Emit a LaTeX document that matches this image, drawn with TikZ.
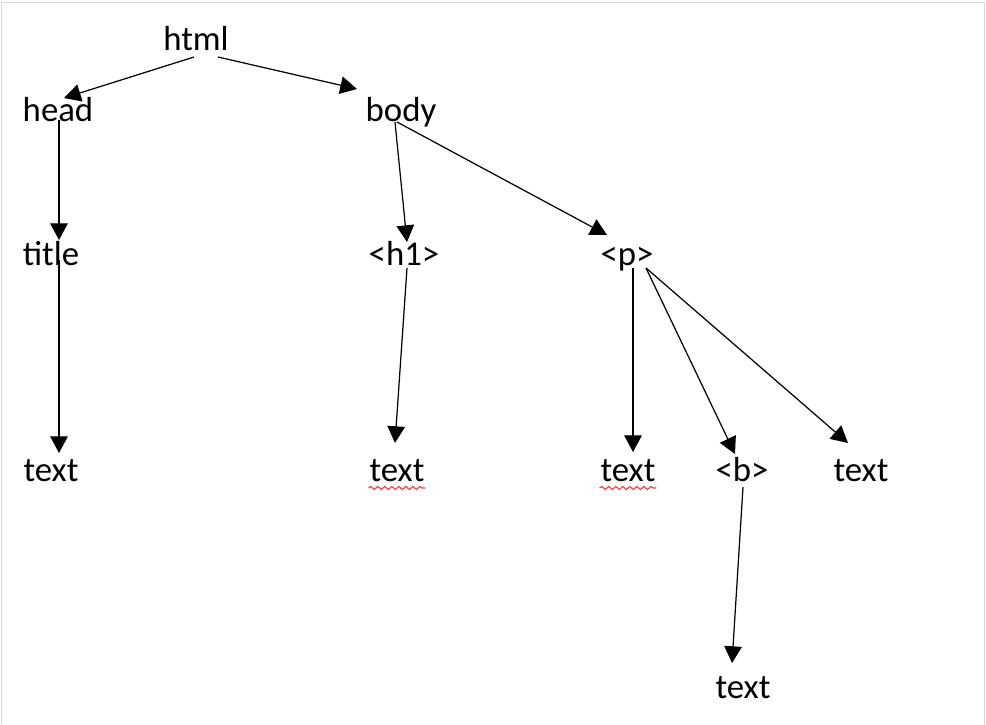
\documentclass[tikz,border=0pt]{standalone}
\usepackage{fontspec}
\setmainfont{Carlito}
\usepackage{tikz}
\usetikzlibrary{calc,positioning,arrows.meta,decorations.pathmorphing}
\tikzset{
    tag/.style={
        inner sep=0pt,
        outer sep=0pt,
        anchor=base,
        font=\fontsize{19.8}{23}\selectfont,
    },
    connector/.style={
        -{Triangle[length=9.5pt,width=10pt]},
        line width=0.7pt,
    },
    spelling/.style={
        draw=red!80,
        line width=0.6pt,
        decorate,
        decoration={snake,amplitude=0.9pt,segment length=4pt},
    },
    frame/.style={
        draw=gray!30,
        line width=1.1pt,
    },
}

\begin{document}
\begin{tikzpicture}[x=0.02cm,y=-0.02cm]
        \useasboundingbox (0,0) rectangle (986,724);
        \draw[frame] (1.5,730) |- (984.5,2.5) -- (984.5,730);

        \node[tag](html) at (196,50) {html};
        \node[tag](head) at (58,121) {head};
        \node[tag](body) at (401,121) {body};

        \node[tag](title) at (51,265) {title};
        \node[tag](h1) at (404,265) {<h1>};
        \node[tag](p) at (627,265) {<p>};

        \node[tag](txta) at (51,481) {text};
        \node[tag](txtb) at (397,481) {text};
        \node[tag](txtc) at (628,481) {text};
        \node[tag](b) at (742,481) {<b>};
        \node[tag](txtd) at (861,481) {text};
        \node[tag](txte) at (743,698) {text};

        \draw[connector] ($(html.base)+(-2,7)$) -- ($(head.base)+(6,-23)$);
        \draw[connector] ($(html.base)+(22,7)$) -- ($(body.base)+(-44,-32)$);
        \draw[connector] ($(head.base)+(1,-1)$) -- ($(title.base)+(8,-25)$);
        \draw[connector] ($(title.base)+(8,-5)$) -- ($(txta.base)+(8,-28)$);
        \draw[connector] ($(body.base)+(-6,1)$) -- ($(h1.base)+(3,-23)$);
        \draw[connector] ($(body.base)+(-4,1)$) -- ($(p.base)+(-20,-30)$);
        \draw[connector] ($(h1.base)+(3,3)$) -- ($(txtb.base)+(-2,-38)$);
        \draw[connector] ($(p.base)+(6,3)$) -- ($(txtc.base)+(5,-29)$);
        \draw[connector] ($(p.base)+(19,3)$) -- ($(b.base)+(-7,-27)$);
        \draw[connector] ($(p.base)+(19,3)$) -- ($(txtd.base)+(-13,-38)$);
        \draw[connector] ($(b.base)+(1,6)$) -- ($(txte.base)+(-11,-35)$);

        \path[spelling] ($(txtb.base west)+(-1,7)$) -- ($(txtb.base east)+(1,7)$);
        \path[spelling] ($(txtc.base west)+(-1,7)$) -- ($(txtc.base east)+(1,7)$);
\end{tikzpicture}
\end{document}
